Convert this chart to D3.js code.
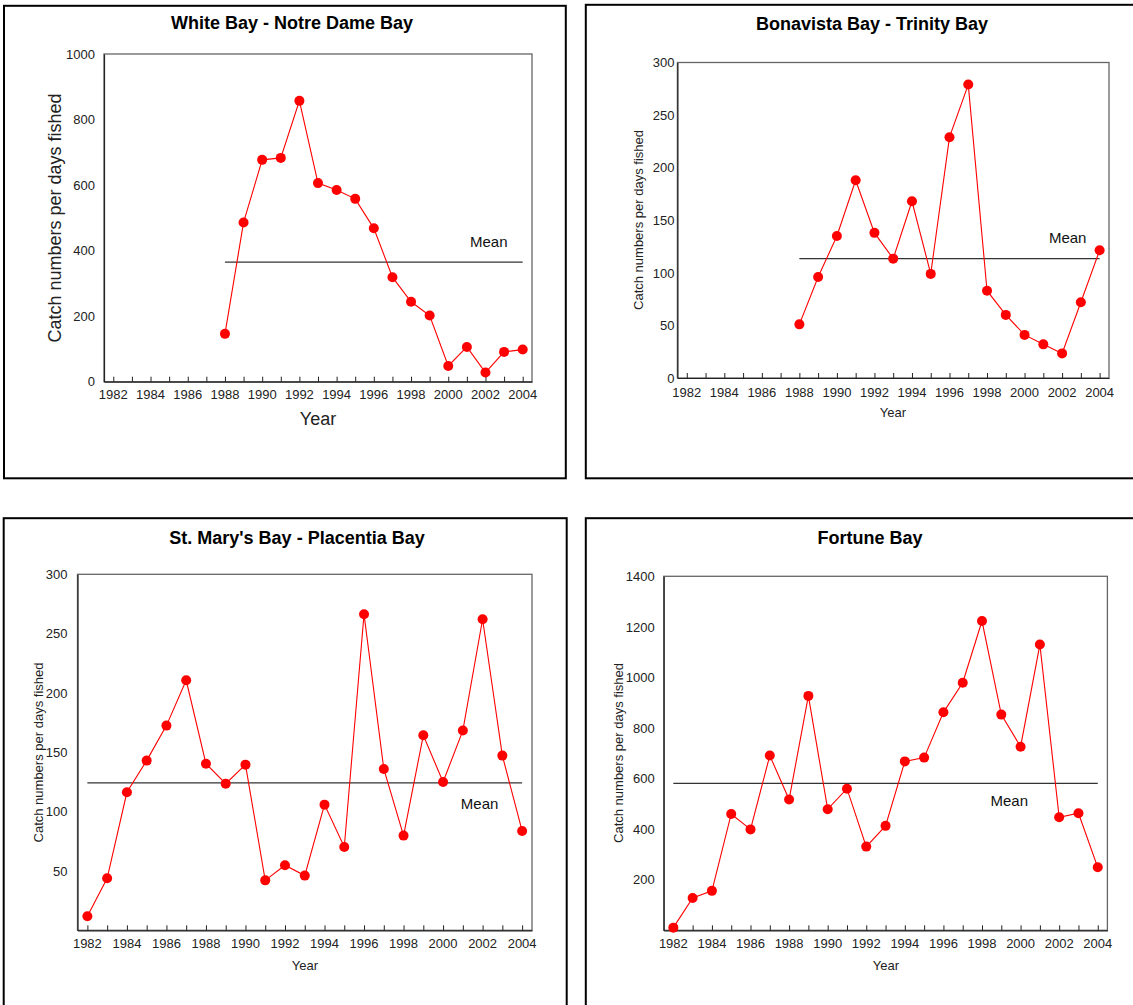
<!DOCTYPE html>
<html>
<head>
<meta charset="utf-8">
<script src="https://cdn.jsdelivr.net/npm/d3@7/dist/d3.min.js"></script>
<style>
  html, body { margin: 0; padding: 0; background: #fff; }
  svg { display: block; font-family: Arial, "Liberation Sans", sans-serif; }
</style>
</head>
<body>
<svg id="chart" width="1133" height="1005"></svg>
<script>
// ---------------- DATA ----------------
const panelTitles = ["White Bay - Notre Dame Bay", "Bonavista Bay - Trinity Bay", "St. Mary's Bay - Placentia Bay", "Fortune Bay"];
const yAxisLabel = "Catch numbers per days fished";
const xAxisLabel = "Year";
const meanLabel = "Mean";

const xTickYears = [1982,1983,1984,1985,1986,1987,1988,1989,1990,1991,1992,1993,1994,1995,1996,1997,1998,1999,2000,2001,2002,2003,2004];
const xTickLabels = ["1982","1984","1986","1988","1990","1992","1994","1996","1998","2000","2002","2004"];

const whiteBayYears = [1988,1989,1990,1991,1992,1993,1994,1995,1996,1997,1998,1999,2000,2001,2002,2003,2004];
const whiteBayValues = [146,486,677,683,857,606,585,558,468,319,244,202,48,106,28,91,98];
const whiteBayMean = 365;
const whiteBayYTicks = [0,200,400,600,800,1000];

const bonavistaYears = [1988,1989,1990,1991,1992,1993,1994,1995,1996,1997,1998,1999,2000,2001,2002,2003,2004];
const bonavistaValues = [51,96,135,188,138,113.5,168,99,229,279,83,60,41,32,23.4,72,121.4];
const bonavistaMean = 113.5;
const bonavistaYTicks = [0,50,100,150,200,250,300];

const stMarysYears = [1982,1983,1984,1985,1986,1987,1988,1989,1990,1991,1992,1993,1994,1995,1996,1997,1998,1999,2000,2001,2002,2003,2004];
const stMarysValues = [11.8,43.8,116.3,143,172.5,210.7,140.4,123.6,139.6,42.1,54.8,46.1,105.9,70.2,266.3,136,79.8,164.3,125,168.3,262.1,147.2,83.7];
const stMarysMean = 124.2;
const stMarysYTicks = [50,100,150,200,250,300];

const fortuneYears = [1982,1983,1984,1985,1986,1987,1988,1989,1990,1991,1992,1993,1994,1995,1996,1997,1998,1999,2000,2001,2002,2003,2004];
const fortuneValues = [10.5,128,156,460,399,691,517,927,479,560,331,413,668,683,862,979,1223,853,726,1130,447,463,249];
const fortuneMean = 581;
const fortuneYTicks = [200,400,600,800,1000,1200,1400];

// mean-label anchor in data units [year, value]
const meanLabelAnchors = [[2001.17, 412], [2001.3, 128.6], [2000.9, 102.2], [1998.44, 491.6]];

// ---------------- LAYOUT ----------------
const layouts = [
  { box:[4,5.8,565.8,478.3], plot:{l:104,r:532,t:54,b:381.7}, yMax:1000,
    title:[292,29.3], yLab:[60.5,218,18], xLab:[318,425,18], gap:9, xOff:17.3 },
  { box:[585.8,4.8,1140,478.3], plot:{l:677.4,r:1109,t:62.5,b:378}, yMax:300,
    title:[872,30], yLab:[642.6,220,13], xLab:[893,417.3,13], gap:3, xOff:18.7 },
  { box:[3.7,518.2,566.7,1012], plot:{l:77.5,r:532,t:574.3,b:930.3}, yMax:300,
    title:[297,544.3], yLab:[42.7,752.5,13], xLab:[305,970,13], gap:10, xOff:18 },
  { box:[585.8,518.2,1140,1012], plot:{l:663.7,r:1107.4,t:576.3,b:930.3}, yMax:1400,
    title:[870,544], yLab:[623.2,753,13], xLab:[886,970,13], gap:9, xOff:18 }
];

const series = [
  { years: whiteBayYears, values: whiteBayValues, mean: whiteBayMean, yTicks: whiteBayYTicks },
  { years: bonavistaYears, values: bonavistaValues, mean: bonavistaMean, yTicks: bonavistaYTicks },
  { years: stMarysYears, values: stMarysValues, mean: stMarysMean, yTicks: stMarysYTicks },
  { years: fortuneYears, values: fortuneValues, mean: fortuneMean, yTicks: fortuneYTicks }
];

const svg = d3.select("#chart");

series.forEach((s, i) => {
  const L = layouts[i];
  const g = svg.append("g");

  // outer box
  g.append("rect")
    .attr("x", L.box[0]).attr("y", L.box[1])
    .attr("width", L.box[2] - L.box[0]).attr("height", L.box[3] - L.box[1])
    .attr("fill", "none").attr("stroke", "#000").attr("stroke-width", 2);

  // title
  g.append("text")
    .attr("x", L.title[0]).attr("y", L.title[1])
    .attr("text-anchor", "middle")
    .attr("font-size", 18).attr("font-weight", "bold")
    .attr("fill", "#000")
    .text(panelTitles[i]);

  const x = d3.scaleLinear().domain([1981.5, 2004.5]).range([L.plot.l, L.plot.r]);
  const y = d3.scaleLinear().domain([0, L.yMax]).range([L.plot.b, L.plot.t]);

  // plot frame
  g.append("rect")
    .attr("x", L.plot.l).attr("y", L.plot.t)
    .attr("width", L.plot.r - L.plot.l).attr("height", L.plot.b - L.plot.t)
    .attr("fill", "none").attr("stroke", "#666").attr("stroke-width", 1.3);

  // x axis (ticks inside)
  const xAxis = d3.axisBottom(x).tickValues(xTickYears).tickSizeInner(-5).tickSizeOuter(0).tickFormat("");
  const xg = g.append("g").attr("transform", `translate(0,${L.plot.b})`).call(xAxis);
  xg.select(".domain").attr("stroke", "#222").attr("stroke-width", 1.2);
  xg.selectAll(".tick line").attr("stroke", "#222");
  g.append("g").selectAll("text").data(xTickLabels).join("text")
    .attr("x", d => x(+d)).attr("y", L.plot.b + L.xOff)
    .attr("text-anchor", "middle").attr("font-size", 13).attr("fill", "#222")
    .text(d => d);

  // y axis
  const yAxis = d3.axisLeft(y).tickValues(s.yTicks).tickSize(0).tickPadding(L.gap).tickFormat(d3.format("d"));
  const yg = g.append("g").attr("transform", `translate(${L.plot.l},0)`).call(yAxis);
  yg.select(".domain").attr("stroke", "#222").attr("stroke-width", 1.2);
  yg.selectAll(".tick text").attr("font-size", 13).attr("fill", "#222")
    .attr("font-family", 'Arial, "Liberation Sans", sans-serif');

  // axis labels
  g.append("text")
    .attr("transform", `translate(${L.yLab[0]},${L.yLab[1]}) rotate(-90)`)
    .attr("text-anchor", "middle").attr("font-size", L.yLab[2]).attr("fill", "#222")
    .text(yAxisLabel);
  g.append("text")
    .attr("x", L.xLab[0]).attr("y", L.xLab[1])
    .attr("text-anchor", "middle").attr("font-size", L.xLab[2]).attr("fill", "#222")
    .text(xAxisLabel);

  // mean line
  const yrs = s.years;
  g.append("line")
    .attr("x1", x(yrs[0])).attr("x2", x(yrs[yrs.length - 1]))
    .attr("y1", y(s.mean)).attr("y2", y(s.mean))
    .attr("stroke", "#333").attr("stroke-width", 1.2);
  g.append("text")
    .attr("x", x(meanLabelAnchors[i][0])).attr("y", y(meanLabelAnchors[i][1]))
    .attr("font-size", 15).attr("fill", "#111")
    .text(meanLabel);

  // series line
  const pts = yrs.map((yr, k) => [yr, s.values[k]]);
  g.append("path")
    .datum(pts)
    .attr("fill", "none").attr("stroke", "#ff0000").attr("stroke-width", 1.1)
    .attr("d", d3.line().x(d => x(d[0])).y(d => y(d[1])));
  g.append("g").selectAll("circle").data(pts).join("circle")
    .attr("cx", d => x(d[0])).attr("cy", d => y(d[1]))
    .attr("r", 5).attr("fill", "#ff0000");
});
</script>
</body>
</html>
